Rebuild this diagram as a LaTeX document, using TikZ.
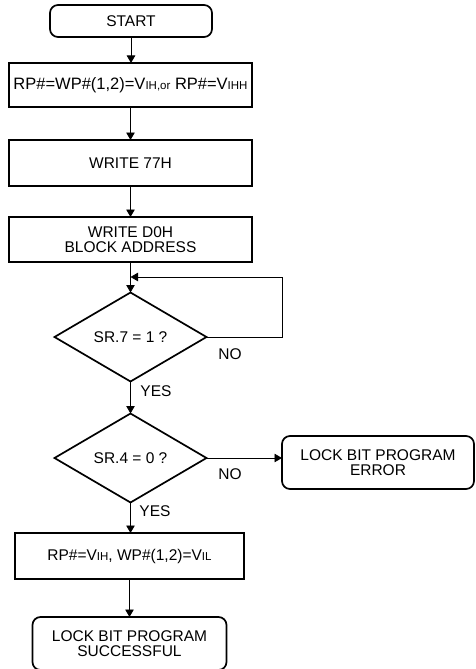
\documentclass[tikz,border=0pt]{standalone}
\usepackage{fontspec}
\setmainfont{Liberation Sans}
\usetikzlibrary{shapes.geometric,arrows.meta}
\newcommand\subsm[1]{{\fontsize{11.5}{10}\selectfont #1}}
\begin{document}
\begin{tikzpicture}[x=1pt,y=-1pt,
  every node/.style={font=\fontsize{15.5}{14.5}\selectfont, inner sep=0pt, outer sep=0pt},
  procbox/.style={draw, line width=1.7pt, align=center},
  termbox/.style={draw, line width=1.7pt, rounded corners=8pt, align=center},
  decision/.style={draw, diamond, line width=1.7pt, minimum width=152pt, minimum height=89pt},
  lbl/.style={},
  arr/.style={line width=0.9pt, -{Triangle[length=7.5pt,width=8.5pt]}}]
\useasboundingbox (0,0) rectangle (475,669);

% process chain
\node[termbox, minimum width=162pt, minimum height=32pt] (start) at (131,21) {START};
\node[procbox, minimum width=243pt, minimum height=44pt, font=\fontsize{16.5}{15}\selectfont] (b2) at (130.5,85)
  {RP\#=WP\#(1,2)=V\subsm{IH,or} RP\#=V\subsm{IHH}};
\node[procbox, minimum width=243pt, minimum height=46pt] (b3) at (130.5,163) {WRITE 77H};
\node[procbox, minimum width=243pt, minimum height=45pt] (b4) at (130.5,239.5) {WRITE D0H\\BLOCK ADDRESS};
\node[decision] (d1) at (130.5,337) {SR.7 = 1 ?};
\node[decision] (d2) at (130.5,458) {SR.4 = 0 ?};
\node[termbox, minimum width=192pt, minimum height=53pt] (err) at (378,462.5) {LOCK BIT PROGRAM\\ERROR};
\node[procbox, minimum width=229pt, minimum height=46pt] (b5) at (129.5,556)
  {RP\#=V\subsm{IH}, WP\#(1,2)=V\subsm{IL}};
\node[termbox, minimum width=194pt, minimum height=53pt] (done) at (129.5,643.5) {LOCK BIT PROGRAM\\SUCCESSFUL};

% branch labels
\node[lbl] (no1) at (230,354) {NO};
\node[lbl] (yes1) at (156,391.5) {YES};
\node[lbl] (no2) at (230,474) {NO};
\node[lbl] (yes2) at (155,511) {YES};

% connectors
\coordinate (loopc) at (282,277);
\draw[arr] (start.south) -- (start.south |- b2.north);
\draw[arr] (b2.south) -- (b2.south |- b3.north);
\draw[arr] (b3.south) -- (b3.south |- b4.north);
\draw[arr] (b4.south) -- (d1.north);
\draw[arr] (d1.east) -| (loopc) -- (loopc -| d1.north);
\draw[arr] (d1.south) -- (d2.north);
\draw[arr] (d2.east) -- (d2.east -| err.west);
\draw[arr] (d2.south) -- (d2.south |- b5.north);
\draw[arr] (b5.south) -- (b5.south |- done.north);
\end{tikzpicture}
\end{document}
